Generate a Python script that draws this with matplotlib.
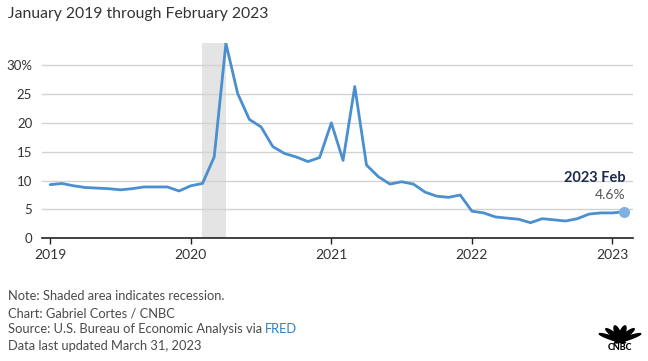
import numpy as np
import matplotlib
matplotlib.use("Agg")
import matplotlib.pyplot as plt
from matplotlib.patches import Ellipse

plt.rcParams["font.family"] = ["Lato", "DejaVu Sans"]

# personal saving rate, monthly, Jan 2019 .. Feb 2023
rate = [9.3, 9.5, 9.1, 8.8, 8.7, 8.6, 8.4, 8.6, 8.9, 8.9, 8.9, 8.2,
        9.1, 9.5, 14.1, 33.8, 25.1, 20.6, 19.3, 15.9, 14.7, 14.1, 13.3, 14.0,
        20.0, 13.5, 26.3, 12.7, 10.7, 9.4, 9.8, 9.4, 8.0, 7.3, 7.1, 7.5,
        4.7, 4.4, 3.7, 3.5, 3.3, 2.7, 3.4, 3.2, 3.0, 3.4, 4.2, 4.4,
        4.4, 4.6]
year_ticks = [2019, 2020, 2021, 2022, 2023]
y_ticks = [0, 5, 10, 15, 20, 25, 30]
recession = (13, 15)  # Feb 2020 .. Apr 2020, month index

months = np.arange(len(rate))

fig = plt.figure(figsize=(6.48, 3.61), dpi=100)
ax = fig.add_axes([42 / 648, 1 - 238.3 / 361, (633 - 42) / 648, (238.3 - 42.7) / 361])

ax.axvspan(recession[0], recession[1], color="#e4e4e4", lw=0, zorder=0)
ax.plot(months, rate, color="#4a8fcf", lw=2.0, solid_joinstyle="round",
        solid_capstyle="round", zorder=3)
ax.plot(months[-1], rate[-1], "o", ms=8, color="#7fb2e0", mec="none", zorder=4)

ax.set_xlim(-0.7, 49.75)
ax.set_ylim(0, 33.9)
ax.set_yticks(y_ticks)
ax.set_yticklabels([str(v) if v != 30 else "30%" for v in y_ticks])
ax.set_xticks([(y - 2019) * 12 for y in year_ticks])
ax.set_xticklabels([str(y) for y in year_ticks])
ax.grid(axis="y", color="#d2d2d2", lw=1)
ax.set_axisbelow(True)
for s in ["top", "right", "left"]:
    ax.spines[s].set_visible(False)
ax.spines["bottom"].set_color("#222222")
ax.spines["bottom"].set_linewidth(1.2)
ax.spines["bottom"].set_zorder(5)
ax.tick_params(axis="y", length=0, pad=7, labelsize=9.5, labelcolor="#333333")
ax.tick_params(axis="x", length=4, width=1, color="#222222", pad=4,
               labelsize=10, labelcolor="#333333")

ax.annotate("2023 Feb", (months[-1], rate[-1]), xytext=(1, 24), textcoords="offset points",
            ha="right", va="center", fontsize=10.5, fontweight="bold", color="#1c2b4b")
ax.annotate("4.6%", (months[-1], rate[-1]), xytext=(1, 12), textcoords="offset points",
            ha="right", va="center", fontsize=10, color="#555555")

fig.text(8 / 648, 1 - 14 / 361, "January 2019 through February 2023",
         fontsize=11.3, color="#333333", va="center")

foot = dict(fontsize=9.3, color="#4a4a4a", va="center")
fig.text(8 / 648, 1 - 295.5 / 361, "Note: Shaded area indicates recession.", **foot)
fig.text(8 / 648, 1 - 313 / 361, "Chart: Gabriel Cortes / CNBC", **foot)
t = fig.text(8 / 648, 1 - 329 / 361, "Source: U.S. Bureau of Economic Analysis via ", **foot)
fig.canvas.draw()
bb = t.get_window_extent()
fig.text(bb.x1 / 648, 1 - 329 / 361, "FRED", fontsize=9.3, color="#2f7ec7", va="center")
fig.text(8 / 648, 1 - 345.5 / 361, "Data last updated March 31, 2023", **foot)

# small peacock mark
lx, ly = 620, 343
for ang in [-58, -35, -12, 12, 35, 58]:
    r = np.deg2rad(90 - ang)
    cx, cy = lx + 9 * np.cos(r), ly - 9 * np.sin(r)
    fig.patches.append(Ellipse((cx / 648, 1 - cy / 361), 5.5 / 648, 17 / 361, angle=-ang,
                               transform=fig.transFigure, color="black"))
fig.text(lx / 648, 1 - 347.5 / 361, "CNBC", fontsize=6.5, fontweight="black",
         ha="center", va="center", color="black")

fig.savefig("out.png", dpi=100)
